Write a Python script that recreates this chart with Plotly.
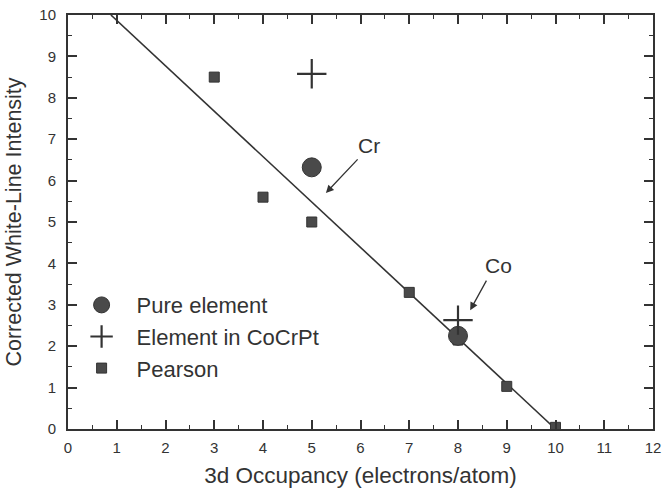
import plotly.graph_objects as go

# Data
pearson_x = [3, 4, 5, 7, 8, 9, 10]
pearson_y = [8.5, 5.6, 5.0, 3.3, 2.15, 1.03, 0.04]
pure_x = [5, 8]
pure_y = [6.32, 2.25]
cocrpt_x = [5, 8]
cocrpt_y = [8.58, 2.63]
fit_x = [0.88, 10.0]
fit_y = [10.0, 0.0]

font_family = "Liberation Sans, Arial, sans-serif"
ink = "#333333"

fig = go.Figure()
fig.add_trace(go.Scatter(x=fit_x, y=fit_y, mode="lines", line=dict(color=ink, width=1.6),
                         showlegend=False, hoverinfo="skip"))
fig.add_trace(go.Scatter(x=pearson_x, y=pearson_y, mode="markers", name="Pearson",
                         marker=dict(symbol="square", size=10, color="#4a4a4a",
                                     line=dict(color=ink, width=1)),
                         legendgroup="c", legendrank=3))
fig.add_trace(go.Scatter(x=pure_x, y=pure_y, mode="markers", name="Pure element",
                         marker=dict(symbol="circle", size=19, color="#4a4a4a",
                                     line=dict(color=ink, width=1)),
                         legendgroup="a", legendrank=1))
fig.add_trace(go.Scatter(x=cocrpt_x, y=cocrpt_y, mode="markers", name="Element in CoCrPt",
                         marker=dict(symbol="cross-thin", size=21,
                                     line=dict(color=ink, width=2.2)),
                         legendgroup="b", legendrank=2))

# annotations with arrows
fig.add_annotation(x=5.29, y=5.70, ax=5.97, ay=6.55, axref="x", ayref="y", xref="x", yref="y",
                   text="", showarrow=True, arrowhead=2, arrowsize=1.2, arrowwidth=1.3, arrowcolor=ink)
fig.add_annotation(x=6.17, y=6.85, text="Cr", showarrow=False, xref="x", yref="y",
                   font=dict(size=21, color=ink, family=font_family))
fig.add_annotation(x=8.25, y=2.87, ax=8.60, ay=3.62, axref="x", ayref="y", xref="x", yref="y",
                   text="", showarrow=True, arrowhead=2, arrowsize=1.2, arrowwidth=1.3, arrowcolor=ink)
fig.add_annotation(x=8.84, y=3.94, text="Co", showarrow=False, xref="x", yref="y",
                   font=dict(size=21, color=ink, family=font_family))

axis_common = dict(
    showline=True, linecolor=ink, linewidth=2, mirror="ticks",
    ticks="inside", ticklen=9, tickwidth=1.5, tickcolor=ink,
    minor=dict(ticks="inside", ticklen=4, tickwidth=1.2, tickcolor=ink, dtick=0.5),
    showgrid=False, zeroline=False, automargin=False,
    tickfont=dict(size=15, color=ink, family=font_family),
)

fig.update_xaxes(range=[0, 12], dtick=1, tick0=0, ticklabelstandoff=4,
                 title=dict(text="3d Occupancy (electrons/atom)",
                            font=dict(size=22.5, color=ink, family=font_family), standoff=12),
                 **axis_common)
fig.update_yaxes(range=[0, 10], dtick=1, tick0=0, ticklabelstandoff=7,
                 title=dict(text="Corrected White-Line Intensity",
                            font=dict(size=21.5, color=ink, family=font_family), standoff=12),
                 **axis_common)

fig.update_layout(
    width=665, height=490,
    margin=dict(l=68, r=12, t=15, b=61),
    paper_bgcolor="white", plot_bgcolor="white",
    font=dict(family=font_family, color=ink),
    legend=dict(x=-0.0024, y=0.350, xanchor="left", yanchor="top",
                bgcolor="rgba(0,0,0,0)", font=dict(size=22, color=ink, family=font_family),
                traceorder="grouped", tracegroupgap=0, itemsizing="trace", itemwidth=60),
)

fig.write_html("out.html")
